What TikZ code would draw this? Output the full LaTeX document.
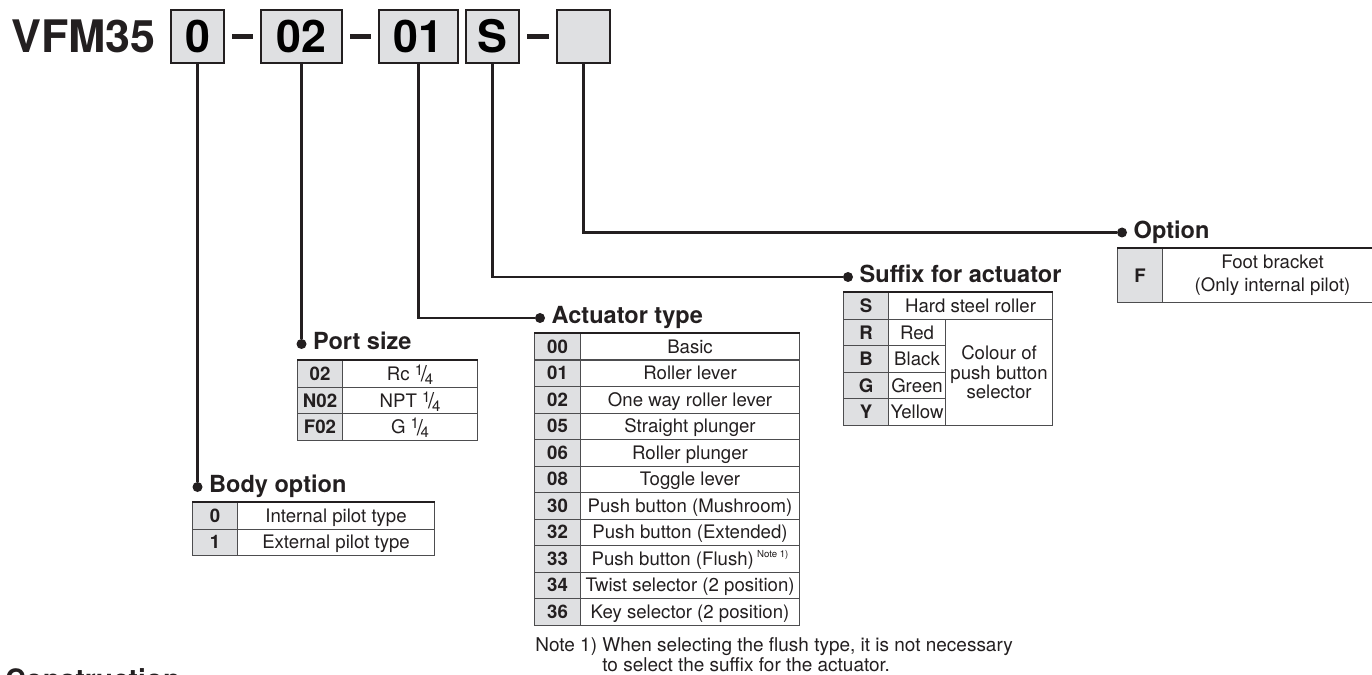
\documentclass[tikz,border=0pt]{standalone}
\usepackage{fontspec}
\setmainfont{TeX Gyre Heros}
\usetikzlibrary{positioning,calc}
\definecolor{PartInk}{HTML}{231F20}
\definecolor{PartGray}{HTML}{DFE0E2}
\definecolor{PartRule}{HTML}{4D4D4F}
\newcommand{\PX}{0.02cm}
\newcommand{\qtr}{\raisebox{0.5ex}{\fontsize{8.5}{8}\selectfont 1}\kern-0.12em\raisebox{-0.15ex}{\fontsize{12.5}{12}\selectfont /}\kern-0.12em\raisebox{-0.4ex}{\fontsize{8.5}{8}\selectfont 4}}
\newcommand{\notemark}{\,\raisebox{0.8ex}{\fontsize{5.5}{6}\selectfont Note 1)}}

\begin{document}
\begin{tikzpicture}[x=0.02cm,y=-0.02cm,
    pnbox/.style={draw=PartInk,line width=1.3pt,fill=PartGray,minimum height=53*\PX,inner sep=0pt,font=\bfseries\fontsize{25.5}{28}\selectfont},
    pnsep/.style={draw=PartInk,line width=2.5pt,shorten <=0.14cm,shorten >=0.14cm},
    lead/.style={draw=PartInk,line width=1.2pt},
    leaddot/.style={circle,fill=PartInk,inner sep=0pt,minimum size=10*\PX},
    heading/.style={inner sep=0pt,text height=9.6pt,text depth=2.8pt,text=PartInk,font=\bfseries\fontsize{13.4}{15}\selectfont},
    codecell/.style={draw=PartRule,line width=0.6pt,fill=PartGray,anchor=north west,inner sep=0pt,minimum height=26.5*\PX,text height=7.5pt,text depth=0pt,text=PartInk,font=\bfseries\fontsize{10.6}{12}\selectfont},
    desccell/.style={draw=PartRule,line width=0.6pt,fill=white,anchor=north west,inner sep=0pt,minimum height=26.5*\PX,text height=7.5pt,text depth=0pt,text=PartInk,font=\fontsize{10.6}{12}\selectfont},
    tabtop/.style={draw=PartInk,line width=1.3pt},
    notetext/.style={anchor=base west,inner sep=0pt,align=left,text=PartInk,font=\fontsize{10.8}{11}\selectfont}]
  \useasboundingbox (0,0) rectangle (1372,675);

  % part number
  \node[anchor=base west,inner sep=0pt,text=PartInk,font=\bfseries\fontsize{25.5}{28}\selectfont] (model) at (11,53) {VFM35};
  \node[pnbox,minimum width=53*\PX] (bx0) at (197.5,36.5) {0};
  \node[pnbox,minimum width=81*\PX] (bx02) at (301.5,36.5) {02};
  \node[pnbox,minimum width=79*\PX] (bx01) at (418.5,36.5) {01};
  \node[pnbox,minimum width=53*\PX] (bxS) at (492.5,36.5) {S};
  \node[pnbox,minimum width=53*\PX] (bxopt) at (583.5,36.5) {};
  \draw[pnsep] (bx0) -- (bx02);
  \draw[pnsep] (bx02) -- (bx01);
  \draw[pnsep] (bxS) -- (bxopt);

  % lead lines
  \node[leaddot] (bodydot) at (197.5,487) {};
  \node[leaddot] (portdot) at (301.5,344) {};
  \node[leaddot] (actdot) at (540,318) {};
  \node[leaddot] (sufdot) at (848,277) {};
  \node[leaddot] (optdot) at (1122,232.5) {};
  \draw[lead] (bx0.south) -- (bodydot);
  \draw[lead] (bx02.south) -- (portdot);
  \draw[lead] (bx01.south) |- (actdot);
  \draw[lead] (bxS.south) |- (sufdot);
  \draw[lead] (bxopt.south) |- (optdot);

  \node[heading,right=0.12cm of bodydot] (bodyhd) {Body option};
  \node[heading,right=0.12cm of portdot] (porthd) {Port size};
  \node[heading,right=0.12cm of actdot] (acthd) {Actuator type};
  \node[heading,right=0.12cm of sufdot] (sufhd) {Suffix for actuator};
  \node[heading,right=0.12cm of optdot] (opthd) {Option};

  % body option
  \foreach \c/\t [count=\i from 0] in {0/Internal pilot type,1/External pilot type} {
    \node[codecell,minimum width=45*\PX] (body-c\i) at (192,{502+26.5*\i}) {\c};
    \node[desccell,minimum width=197*\PX] (body-d\i) at (237,{502+26.5*\i}) {\t};
  }
  \draw[tabtop] (body-c0.north west) -- (body-d0.north east);

  % port size
  \foreach \c/\t [count=\i from 0] in {02/Rc \qtr,N02/NPT \qtr,F02/G \qtr} {
    \node[codecell,minimum width=45*\PX,minimum height=26.7*\PX] (port-c\i) at (297,{360+26.7*\i}) {\c};
    \node[desccell,minimum width=135*\PX,minimum height=26.7*\PX] (port-d\i) at (342,{360+26.7*\i}) {\t};
  }
  \draw[tabtop] (port-c0.north west) -- (port-d0.north east);

  % actuator type
  \foreach \c/\t [count=\i from 0] in {00/Basic,01/Roller lever,02/One way roller lever,05/Straight plunger,06/Roller plunger,08/Toggle lever,30/Push button (Mushroom),32/Push button (Extended),33/{Push button (Flush)\notemark},34/Twist selector (2 position),36/Key selector (2 position)} {
    \node[codecell,minimum width=46*\PX] (act-c\i) at (534,{333+26.5*\i}) {\c};
    \node[desccell,minimum width=219*\PX] (act-d\i) at (580,{333+26.5*\i}) {\t};
  }
  \draw[tabtop] (act-c0.north west) -- (act-d0.north east);
  \node[notetext] (note) at (535,671) {Note 1) When selecting the flush type, it is not necessary\\\hphantom{Note 1) }to select the suffix for the actuator.};

  % suffix for actuator
  \node[codecell,minimum width=45*\PX,minimum height=26.6*\PX] (suf-c0) at (843,292) {S};
  \node[desccell,minimum width=164*\PX,minimum height=26.6*\PX] (suf-d0) at (888,292) {Hard steel roller};
  \foreach \c/\t [count=\i from 1] in {R/Red,B/Black,G/Green,Y/Yellow} {
    \node[codecell,minimum width=45*\PX,minimum height=26.6*\PX] (suf-c\i) at (843,{292+26.6*\i}) {\c};
    \node[desccell,minimum width=57*\PX,minimum height=26.6*\PX] (suf-d\i) at (888,{292+26.6*\i}) {\t};
  }
  \node[desccell,minimum width=107*\PX,minimum height=106.4*\PX,text height=,text depth=,align=center,font=\fontsize{10.6}{11}\selectfont] (suf-col) at (945,318.6) {Colour of\\push button\\selector};
  \draw[tabtop] (suf-c0.north west) -- (suf-d0.north east);

  % option
  \node[codecell,minimum width=45*\PX,minimum height=54*\PX] (opt-c0) at (1117,248) {F};
  \node[desccell,minimum width=220*\PX,minimum height=54*\PX,text height=,text depth=,align=center,font=\fontsize{10.6}{13}\selectfont] (opt-d0) at (1162,248) {Foot bracket\\(Only internal pilot)};
  \draw[tabtop] (opt-c0.north west) -- (opt-d0.north east);

  \node[anchor=base west,inner sep=0pt,text=PartInk,font=\bfseries\fontsize{16}{18}\selectfont] (constr) at (5,689) {Construction};
\end{tikzpicture}
\end{document}
